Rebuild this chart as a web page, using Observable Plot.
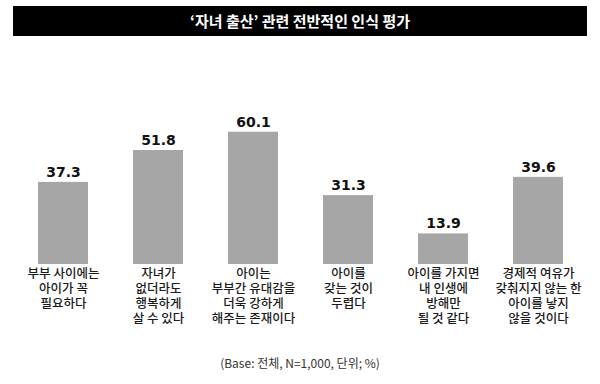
<!DOCTYPE html>
<html>
<head>
<meta charset="utf-8">
<script src="https://cdn.jsdelivr.net/npm/d3@7"></script>
<script src="https://cdn.jsdelivr.net/npm/@observablehq/plot@0.6"></script>
<style>
  html, body { margin: 0; padding: 0; background: #fff; width: 600px; height: 384px; overflow: hidden; }
  #title { margin: 6px 13px 0 13px; height: 30px; background: #000; color: #fff;
    font-family: "Noto Sans CJK KR", sans-serif; font-weight: 700; font-size: 15px;
    line-height: 30px; text-align: center; }
  #chart { height: 311px; }
  #caption { height: 37px; line-height: 32px; text-align: center; color: #333;
    font-family: "Noto Sans CJK KR", sans-serif; font-size: 12px; }
</style>
</head>
<body>
<div id="title">‘자녀 출산’ 관련 전반적인 인식 평가</div>
<div id="chart"></div>
<div id="caption">(Base: 전체, N=1,000, 단위; %)</div>
<script>
const categories = [
  "부부 사이에는\n아이가 꼭\n필요하다",
  "자녀가\n없더라도\n행복하게\n살 수 있다",
  "아이는\n부부간 유대감을\n더욱 강하게\n해주는 존재이다",
  "아이를\n갖는 것이\n두렵다",
  "아이를 가지면\n내 인생에\n방해만\n될 것 같다",
  "경제적 여유가\n갖춰지지 않는 한\n아이를 낳지\n않을 것이다"
];
const values = [37.3, 51.8, 60.1, 31.3, 13.9, 39.6];
const valueLabels = ["37.3", "51.8", "60.1", "31.3", "13.9", "39.6"];

const data = categories.map((c, i) => ({cat: c, value: values[i], label: valueLabels[i]}));

const chart = Plot.plot({
  width: 600,
  height: 311,
  marginTop: 0, marginBottom: 0, marginLeft: 0, marginRight: 0,
  style: {background: "#fff"},
  x: {domain: categories, range: [14.3, 586.7], paddingInner: 0.476, paddingOuter: 0.238, label: null, axis: null},
  y: {domain: [0, 100], range: [228, 7.9], label: null, axis: null},
  marks: [
    Plot.barY(data, {x: "cat", y: "value", fill: "#a6a6a6"}),
    Plot.text(data, {x: "cat", y: "value", text: "label", dy: -10,
      fontFamily: "DejaVu Sans", fontWeight: "bold", fontSize: 14, fill: "#111"}),
    Plot.text(data, {x: "cat", y: 0, text: "cat", dy: 3,
      lineAnchor: "top", lineHeight: 1.2,
      fontFamily: "Noto Sans CJK KR", fontWeight: 500, fontSize: 12.5, fill: "#1a1a1a"})
  ]
});
document.getElementById("chart").appendChild(chart);
</script>
</body>
</html>
